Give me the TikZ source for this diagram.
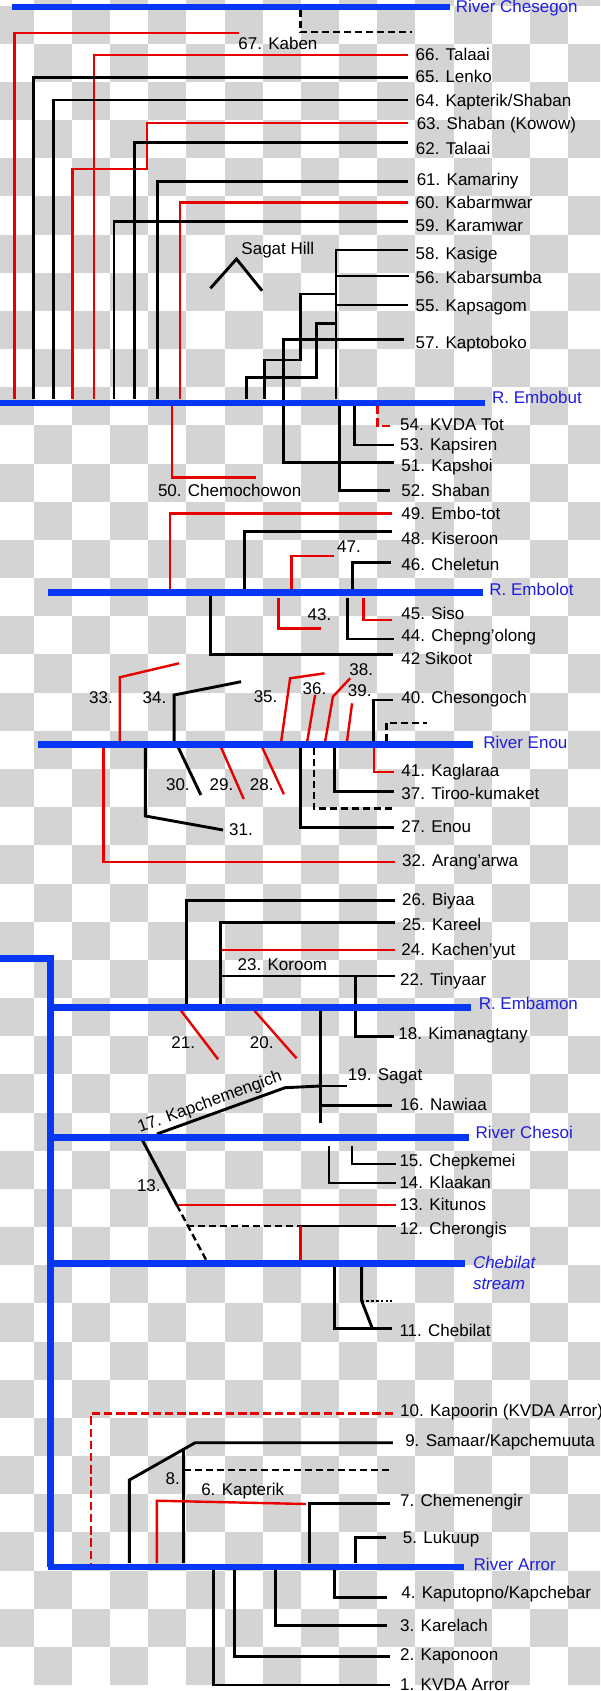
\documentclass[tikz,border=0pt]{standalone}
\usepackage{fontspec}
\setmainfont{Liberation Sans}
\definecolor{rcol}{RGB}{232,0,0}
\definecolor{bcol}{RGB}{5,55,245}
\definecolor{tcol}{RGB}{30,30,225}
\definecolor{chk}{RGB}{212,212,212}
\begin{document}
\begin{tikzpicture}[x=0.57398pt,y=-0.5pt,
  blk/.style={draw=black,line width=1.45pt},
  thn/.style={draw=black,line width=1.1pt},
  rd/.style={draw=rcol,line width=1.2pt},
  riv/.style={draw=bcol,line width=3.2pt},
  dsh/.style={draw=black,line width=1.2pt,dash pattern=on 3.5pt off 2pt},
  dott/.style={draw=black,line width=0.9pt,dash pattern=on 1.3pt off 1.1pt},
  rdsh/.style={draw=rcol,line width=1.2pt,dash pattern=on 4.2pt off 1.9pt},
  lbl/.style={inner sep=0pt,font=\fontsize{8.5}{10}\selectfont,anchor=base west},
  rlbl/.style={lbl,text=tcol}]
\useasboundingbox (0,0) rectangle (522.67,1691);
\fill[white] (0,0) rectangle (522.67,1691);
% checkerboard
\begin{scope}
\clip (0,0) rectangle (522.67,1691);
\foreach \i in {0,...,18}{
  \foreach \j in {-1,...,43}{
    \pgfmathtruncatemacro{\pp}{mod(\i+\j+2,2)}
    \ifnum\pp=0
      \fill[chk] ({29.3+33.26*(\i-1)},{5.6+38.17*\j}) rectangle ++(33.26,38.17);
    \fi
  }
}
\end{scope}

% ---------- top block (to R. Embobut) ----------
\draw[dsh] (261.7,10) -- (261.7,32.3) -- (359,32.3);
\draw[rd] (208.3,33.3) -- (12.7,33.3) -- (12.7,399);
\draw[rd] (355,55) -- (81.7,55) -- (81.7,399);
\draw[blk] (355,77.7) -- (29.3,77.7) -- (29.3,399);
\draw[blk] (355,100) -- (46.7,100) -- (46.7,399);
\draw[rd] (355,123.3) -- (128.3,123.3) -- (128.3,169) -- (63.3,169) -- (63.3,399);
\draw[blk] (355,142.7) -- (117.3,142.7) -- (117.3,399);
\draw[blk] (355,181.7) -- (137.3,181.7) -- (137.3,399);
\draw[rd] (355,202.3) -- (156.7,202.3) -- (156.7,399);
\draw[blk] (355,221.7) -- (99.3,221.7) -- (99.3,399);
\draw[blk] (183.3,288.3) -- (206,259) -- (228.3,290.7);
\draw[blk] (355,250) -- (292.7,250) -- (292.7,399);
\draw[blk] (356.7,276) -- (292.7,276);
\draw[blk] (355,305) -- (292,305);
\draw[blk] (292.7,294) -- (261.7,294) -- (261.7,360) -- (230.7,360) -- (230.7,399);
\draw[blk] (292.7,323.3) -- (276,323.3) -- (276,377.3) -- (215,377.3) -- (215,399);
\draw[blk] (351.7,339.3) -- (246.7,339.3) -- (246.7,462.7) -- (343.3,462.7);
% below Embobut
\draw[rd] (150,406) -- (150,477.3) -- (222.7,477.3);
\draw[blk] (296,406) -- (296,490.7) -- (340,490.7);
\draw[blk] (309,406) -- (309,445) -- (343.3,445);
\draw[rdsh] (329,406) -- (329,426) -- (343.3,426);

% ---------- Embolot ----------
\draw[rd] (341.7,513.3) -- (148.3,513.3) -- (148.3,590);
\draw[blk] (341.7,531.7) -- (212.7,531.7) -- (212.7,590);
\draw[rd] (291,556) -- (254,556) -- (254,590);
\draw[blk] (340.7,562.7) -- (306.7,562.7) -- (306.7,590);
\draw[blk] (183.3,595) -- (183.3,654.3) -- (342.3,654.3);
\draw[rd] (242.7,598) -- (242.7,628.3) -- (279.3,628.3);
\draw[blk] (302.7,598) -- (302.7,639) -- (343.3,639);
\draw[rd] (316.7,598) -- (316.7,620) -- (341.7,620);

% ---------- Enou ----------
\draw[rd] (156,663.3) -- (104.3,677.3) -- (104.3,741);
\draw[blk] (210,681.7) -- (151.7,695) -- (151.7,741);
\draw[rd] (282.7,673.3) -- (252.7,678.3) -- (245,741);
\draw[rd] (274.5,695) -- (267.7,741);
\draw[rd] (305,678.3) -- (290,696.7) -- (283.3,741);
\draw[rd] (306.7,703.3) -- (302.3,741);
\draw[blk] (342.3,700) -- (325,700) -- (325,744);
\draw[rd] (326,746) -- (326,771.7) -- (343.3,771.7);
\draw[dsh] (336.7,741) -- (336.7,722.7) -- (372.3,722.7);
\draw[rd] (90,748) -- (90,861.7) -- (344.3,861.7);
\draw[blk] (126.7,748) -- (126.7,816) -- (194.3,830);
\draw[blk] (155,746.7) -- (175,795);
\draw[rd] (192.3,746.7) -- (212.3,799);
\draw[rd] (228.3,747) -- (247.3,794.3);
\draw[blk] (261.7,748) -- (261.7,827.3) -- (343.3,827.3);
\draw[dsh] (273.3,748) -- (273.3,808.3) -- (343.3,808.3);
\draw[blk] (291.7,748) -- (291.7,791.7) -- (343.3,791.7);

% ---------- Embamon ----------
\draw[blk] (344.3,900.7) -- (162.7,900.7) -- (162.7,1004);
\draw[blk] (344.3,922.3) -- (192.3,922.3) -- (192.3,1004);
\draw[rd] (193.3,950) -- (344.3,950);
\draw[blk] (192.3,976) -- (344.3,976);
\draw[blk] (309.7,976) -- (309.7,1036.7) -- (343.3,1036.7);
\draw[rd] (157.7,1010.7) -- (190,1059.3);
\draw[rd] (221.7,1010.7) -- (258.3,1058.3);
\draw[blk] (279.3,1010) -- (279.3,1123.3);
\draw[blk] (279.3,1086) -- (302.7,1086);
\draw[blk] (279.3,1086) -- (248.3,1087.7) -- (136.7,1134);
\draw[blk] (279.3,1105.7) -- (341.7,1105.7);

% ---------- Chesoi ----------
\draw[thn] (306.7,1146) -- (306.7,1164.3) -- (345,1164.3);
\draw[thn] (286.7,1146) -- (286.7,1183.3) -- (345,1183.3);
\draw[blk] (124.3,1140.7) -- (154,1205);
\draw[rd] (154,1205) -- (345,1205);
\draw[dsh] (154,1205) -- (181,1263);
\draw[dsh] (163.3,1226) -- (261.7,1226);
\draw[blk] (261.7,1226) -- (345,1226);
\draw[rd] (261.7,1226) -- (261.7,1263);

% ---------- Chebilat ----------
\draw[blk] (291.7,1267) -- (291.7,1328.3) -- (341.7,1328.3);
\draw[blk] (315,1267) -- (315,1300.7) -- (324.3,1328.3);
\draw[dott] (315,1300.7) -- (341.7,1300.7);

% ---------- Arror ----------
\draw[rdsh] (342.3,1413.3) -- (79.3,1413.3) -- (79.3,1563);
\draw[blk] (342.3,1442.7) -- (170,1442.7) -- (112.7,1480) -- (112.7,1563);
\draw[blk] (160,1448.3) -- (160,1563);
\draw[dsh] (160,1470) -- (340,1470);
\draw[rd] (266.7,1504) -- (136.7,1500.7) -- (136.7,1563);
\draw[blk] (340,1503.3) -- (269.3,1503.3) -- (269.3,1563);
\draw[blk] (336,1537.3) -- (309.3,1537.3) -- (309.3,1563);
\draw[blk] (291.7,1570) -- (291.7,1597.3) -- (336.7,1597.3);
\draw[blk] (240,1570) -- (240,1625.7) -- (336.7,1625.7);
\draw[blk] (204.3,1570) -- (204.3,1656.7) -- (339.3,1656.7);
\draw[blk] (186,1570) -- (186,1685) -- (339.3,1685);

% ---------- rivers ----------
\draw[riv] (10.7,7) -- (391.7,7);
\draw[riv] (0,402.7) -- (422.7,402.7);
\draw[riv] (41.7,592.3) -- (420.7,592.3);
\draw[riv] (33.3,744.3) -- (412.3,744.3);
\draw[riv] (0,958.3) -- (44,958.3) -- (44,1566.7);
\draw[riv] (44,1007.3) -- (410,1007.3);
\draw[riv] (44,1137.3) -- (408.3,1137.3);
\draw[riv] (44,1263.5) -- (405,1263.5);
\draw[riv] (41.7,1566.7) -- (404.3,1566.7);

% ---------- labels ----------
\node[rlbl] (rchesegon) at (396.7,12.7) {River Chesegon};
\node[rlbl] (rembobut) at (428.3,403.3) {R. Embobut};
\node[rlbl] (rembolot) at (426,595.3) {R. Embolot};
\node[rlbl] (renou) at (420.7,748.3) {River Enou};
\node[rlbl] (rembamon) at (416.7,1009.3) {R. Embamon};
\node[rlbl] (rchesoi) at (414,1138.3) {River Chesoi};
\node[rlbl,font=\fontsize{8.5}{10}\selectfont\itshape] (rchebilat) at (411.7,1268.5) {Chebilat};
\node[rlbl,font=\fontsize{8.5}{10}\selectfont\itshape] (rchebilat2) at (411.7,1289.3) {stream};
\node[rlbl] (rarror) at (412.3,1570) {River Arror};

\node[lbl] (l67) at (207.3,50) {67. Kaben};
\node[lbl] (l66) at (361.7,60.7) {66. Talaai};
\node[lbl] (l65) at (361.7,82.7) {65. Lenko};
\node[lbl] (l64) at (361.7,106) {64. Kapterik/Shaban};
\node[lbl] (l63) at (362.7,129.3) {63. Shaban (Kowow)};
\node[lbl] (l62) at (362,155) {62. Talaai};
\node[lbl] (l61) at (362.7,185.7) {61. Kamariny};
\node[lbl] (l60) at (361.7,208.3) {60. Kabarmwar};
\node[lbl] (l59) at (361.7,231.7) {59. Karamwar};
\node[lbl] (sagat) at (210,254.3) {Sagat Hill};
\node[lbl] (l58) at (361.7,259) {58. Kasige};
\node[lbl] (l56) at (361.7,283.3) {56. Kabarsumba};
\node[lbl] (l55) at (361.7,311.7) {55. Kapsagom};
\node[lbl] (l57) at (361.7,348.3) {57. Kaptoboko};
\node[lbl] (l54) at (348.3,430) {54. KVDA Tot};
\node[lbl] (l53) at (348.3,450) {53. Kapsiren};
\node[lbl] (l51) at (349.3,471.7) {51. Kapshoi};
\node[lbl] (l50) at (137.3,496) {50. Chemochowon};
\node[lbl] (l52) at (349.3,496) {52. Shaban};
\node[lbl] (l49) at (349.3,519.3) {49. Embo-tot};
\node[lbl] (l48) at (349.3,544) {48. Kiseroon};
\node[lbl] (l47) at (293.3,552.7) {47.};
\node[lbl] (l46) at (349.3,570) {46. Cheletun};
\node[lbl] (l45) at (349.3,619) {45. Siso};
\node[lbl] (l43) at (267.7,620.7) {43.};
\node[lbl] (l44) at (349.3,641.7) {44. Chepng'olong};
\node[lbl] (l42) at (349.3,664) {42 Sikoot};
\node[lbl] (l38) at (304,675) {38.};
\node[lbl] (l36) at (263.3,694) {36.};
\node[lbl] (l39) at (302.7,696) {39.};
\node[lbl] (l33) at (77.3,703.3) {33.};
\node[lbl] (l34) at (124,703.3) {34.};
\node[lbl] (l35) at (220.7,702.3) {35.};
\node[lbl] (l40) at (349.3,703.3) {40. Chesongoch};
\node[lbl] (l41) at (349.3,776) {41. Kaglaraa};
\node[lbl] (l30) at (144.3,790.7) {30.};
\node[lbl] (l29) at (182.3,790.7) {29.};
\node[lbl] (l28) at (217.3,790.7) {28.};
\node[lbl] (l37) at (349.3,799) {37. Tiroo-kumaket};
\node[lbl] (l27) at (349.3,832.7) {27. Enou};
\node[lbl] (l31) at (199.3,835) {31.};
\node[lbl] (l32) at (350,866) {32. Arang'arwa};
\node[lbl] (l26) at (350,905.7) {26. Biyaa};
\node[lbl] (l25) at (350,930) {25. Kareel};
\node[lbl] (l24) at (349.3,955.7) {24. Kachen'yut};
\node[lbl] (l23) at (206.7,970.7) {23. Koroom};
\node[lbl] (l22) at (348.3,985) {22. Tinyaar};
\node[lbl] (l18) at (346.7,1039.3) {18. Kimanagtany};
\node[lbl] (l21) at (149,1048.3) {21.};
\node[lbl] (l20) at (217.3,1048.3) {20.};
\node[lbl] (l19) at (302.7,1080.7) {19. Sagat};
\node[lbl] (l16) at (348.3,1110.7) {16. Nawiaa};
\node[lbl,anchor=base,rotate=20] (l17) at (184.3,1106.6) {17. Kapchemengich};
\node[lbl] (l15) at (347.7,1166) {15. Chepkemei};
\node[lbl] (l14) at (347.7,1188.3) {14. Klaakan};
\node[lbl] (l13a) at (119,1191) {13.};
\node[lbl] (l13) at (347.7,1210) {13. Kitunos};
\node[lbl] (l12) at (347.7,1234) {12. Cherongis};
\node[lbl] (l11) at (347.7,1336.7) {11. Chebilat};
\node[lbl] (l10) at (348.3,1416.7) {10. Kapoorin (KVDA Arror)};
\node[lbl] (l9) at (352.7,1446.7) {9. Samaar/Kapchemuuta};
\node[lbl] (l8) at (144,1484) {8.};
\node[lbl] (l6) at (175,1495) {6. Kapterik};
\node[lbl] (l7) at (348.3,1506) {7. Chemenengir};
\node[lbl] (l5) at (350.7,1543.3) {5. Lukuup};
\node[lbl] (l4) at (349.3,1598.3) {4. Kaputopno/Kapchebar};
\node[lbl] (l3) at (348.3,1631) {3. Karelach};
\node[lbl] (l2) at (348.3,1660) {2. Kaponoon};
\node[lbl] (l1) at (348.3,1690) {1. KVDA Arror};
\end{tikzpicture}
\end{document}
